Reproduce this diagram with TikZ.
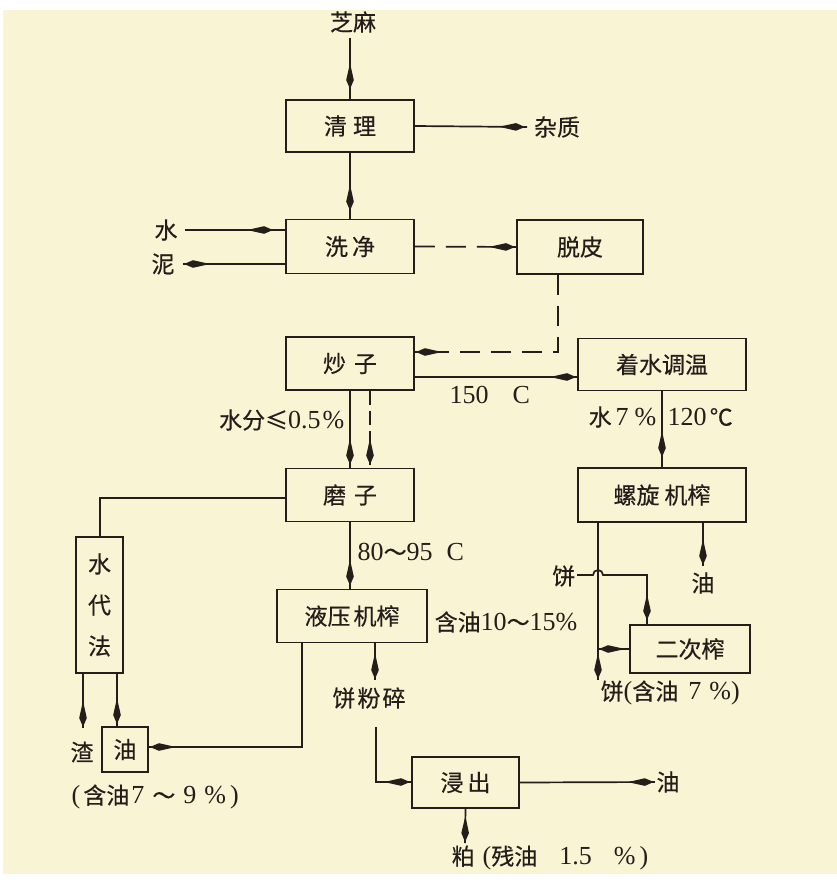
\documentclass[tikz,border=0pt]{standalone}
\usepackage{fontspec}
\setmainfont{Noto Sans CJK SC}[FakeBold=0.4]
\newfontfamily\lat{Liberation Serif}
\usetikzlibrary{arrows.meta,decorations.markings}
\definecolor{paper}{RGB}{249,244,212}
\definecolor{ink}{RGB}{36,30,26}
\newcommand\zhf{\fontsize{23}{28}\selectfont}
\newcommand\latn{\lat\fontsize{26}{28}\selectfont}
\begin{document}
\begin{tikzpicture}[x=1pt,y=-1pt,
  ln/.style={color=ink,line width=1.7pt},
  dln/.style={ln,dash pattern=on 20pt off 11pt},
  box/.style={draw=ink,line width=1.9pt,inner sep=0pt,font=\zhf,text=ink},
  lbl/.style={inner sep=1.5pt,font=\zhf,text=ink},
  arrat/.style={postaction={decorate},decoration={markings,mark=at position #1 with {\fill[ink,solid] (0pt,0pt) -- (-9pt,3.8pt) -- (-26pt,0pt) -- (-9pt,-3.8pt) -- cycle;}}}]
\fill[white] (0,0) rectangle (837,889);
\fill[paper] (3,10) rectangle (837,874);
% boxes
\node[box,minimum width=128pt,minimum height=52pt] (qingli) at (350,126) {清\hspace{6pt}理};
\node[box,minimum width=128pt,minimum height=54pt] (xijing) at (350,246.5) {洗\hspace{4pt}净};
\node[box,minimum width=126pt,minimum height=54pt] (tuopi) at (580,247) {脱皮};
\node[box,minimum width=128pt,minimum height=53pt] (chaozi) at (350,363.5) {炒\hspace{8pt}子};
\node[box,minimum width=168pt,minimum height=52pt] (zhuoshui) at (662,364.5) {着水调温};
\node[box,minimum width=128pt,minimum height=53pt] (mozi) at (350,495) {磨\hspace{8pt}子};
\node[box,minimum width=168pt,minimum height=54pt] (luoxuan) at (662,495) {螺旋\hspace{5pt}机榨};
\node[box,minimum width=150pt,minimum height=53pt] (yeya) at (352,616) {液压\hspace{3pt}机榨};
\node[box,minimum width=47pt,minimum height=136pt,align=center,font=\fontsize{23}{41}\selectfont] (shuidai) at (99.5,605) {水\\代\\法};
\node[box,minimum width=46pt,minimum height=45pt] (you1) at (125,749.5) {油};
\node[box,minimum width=107pt,minimum height=51pt] (jinchu) at (465.5,782.5) {浸\hspace{4pt}出};
\node[box,minimum width=120pt,minimum height=48pt] (erci) at (690,649) {二次榨};
% labels
\node[lbl] (zhima) at (353,22) {芝麻};
\node[lbl] (zazhi) at (557,127) {杂质};
\node[lbl] (shui) at (166,230) {水};
\node[lbl] (ni) at (163,264) {泥};
\node[lbl,anchor=west] (t150) at (448,395) {{\latn 150\hspace{24pt}C}};
\node[lbl,anchor=east] (shuifen) at (346,420) {水分≤{\latn 0.5\hspace{2pt}\%}};
\node[lbl,anchor=east] (shui7) at (658,417) {水\hspace{4pt}{\latn 7\hspace{6pt}\%}};
\node[lbl,anchor=west] (t120) at (666,417) {{\latn 120\hspace{3pt}}℃};
\node[lbl,anchor=west] (t80) at (356,552) {{\latn 80}～{\latn 95\hspace{14pt}C}};
\node[lbl,anchor=west] (hanyou1) at (433,622) {含油{\latn 10}～{\latn 15\%}};
\node[lbl] (fensui) at (369,698) {饼\hspace{2pt}粉\hspace{2pt}碎};
\node[lbl] (zha) at (82,752) {渣};
\node[lbl,anchor=west] (hanyou2) at (70,797) {{\latn(}\hspace{3pt}含油{\latn\hspace{2pt}7\hspace{8pt}}～{\latn\hspace{8pt}9\hspace{8pt}\%\hspace{4pt})}};
\node[lbl] (you3) at (668,782) {油};
\node[lbl,anchor=west] (po) at (450,858) {粕\hspace{8pt}{\latn(}残油{\latn\hspace{22pt}1.5\hspace{22pt}\%\hspace{4pt})}};
\node[lbl] (you2) at (703,583) {油};
\node[lbl,anchor=east] (bing1) at (577,576) {饼};
\node[lbl,anchor=west] (bing2) at (599,693) {饼{\latn(}含油{\latn\hspace{10pt}7\hspace{8pt}\%)}};
% coordinates
\coordinate (zb) at (350,38);
\coordinate (shuiS) at (185,230);
\coordinate (niE) at (183,264);
\coordinate (r1) at (558,352);
\coordinate (c377) at (0,377);
\coordinate (cd) at (370,0);
\coordinate (m1) at (100,498);
\coordinate (s1) at (83,728);
\coordinate (s2) at (117,0);
\coordinate (y1) at (302,747);
\coordinate (f0) at (375,680);
\coordinate (f1) at (376,727);
\coordinate (f2) at (376,782);
\coordinate (p1) at (465,843);
\coordinate (lx) at (598,680);
\coordinate (o2) at (703,566);
\coordinate (h1) at (593,575);
\coordinate (h2) at (647,575);
\coordinate (zE) at (527,127);
% connectors
\draw[ln,arrat=-10pt] (zb) -- (qingli.north);
\draw[ln,arrat=-2pt] (qingli.east) -- (zE);
\draw[ln,arrat=-8pt] (qingli.south) -- (xijing.north);
\draw[ln,arrat=-12pt] (shuiS) -- (shuiS -| xijing.west);
\draw[ln,arrat=-1pt] (niE -| xijing.west) -- (niE);
\draw[dln,arrat=-1pt] (xijing.east) -- (tuopi.west);
\draw[dln,arrat=-1pt] (tuopi.south -| r1) -- (r1) -- (r1 -| chaozi.east);
\draw[ln,arrat=-1pt] (chaozi.east |- c377) -- (zhuoshui.west |- c377);
\draw[ln,arrat=-3pt] (chaozi.south) -- (mozi.north);
\draw[ln,dash pattern=on 14pt off 6pt,arrat=-3pt] (chaozi.south -| cd) -- (mozi.north -| cd);
\draw[ln,arrat=-10pt] (zhuoshui.south) -- (luoxuan.north);
\draw[ln] (mozi.west |- m1) -- (m1) -- (m1 |- shuidai.north);
\draw[ln,arrat=-1pt] (shuidai.south -| s1) -- (s1);
\draw[ln,arrat=-2pt] (shuidai.south -| s2) -- (s2 |- you1.north);
\draw[ln,arrat=-3pt] (mozi.south) -- (mozi.south |- yeya.north);
\draw[ln,arrat=-1pt] (yeya.south -| y1) -- (y1) -- (y1 -| you1.east);
\draw[ln,arrat=-1pt] (yeya.south -| f0) -- (f0);
\draw[ln,arrat=-1pt] (f1) -- (f2) -- (f2 -| jinchu.west);
\draw[ln,arrat=-1pt] (jinchu.east) -- (you3.west);
\draw[ln,arrat=-1pt] (jinchu.south) -- (p1);
\draw[ln,arrat=-1pt] (luoxuan.south -| lx) -- (lx);
\draw[ln,arrat=-1pt] (luoxuan.south -| o2) -- (o2);
\draw[ln,arrat=-4pt] (bing1.east |- h1) -- (h1) arc[start angle=180,end angle=0,radius=5pt] -- (h2) -- (h2 |- erci.north);
\draw[ln,arrat=-1pt] (erci.west) -- (erci.west -| lx);
\end{tikzpicture}
\end{document}
